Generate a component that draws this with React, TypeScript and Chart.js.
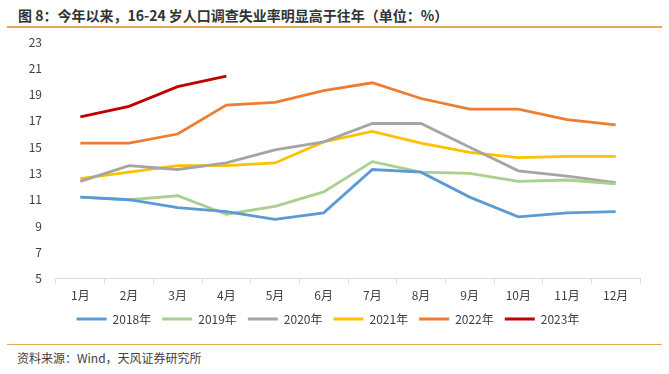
import React, { useEffect, useRef } from "react";
import { Chart, registerables } from "chart.js";

Chart.register(...registerables);

const months = ["1月", "2月", "3月", "4月", "5月", "6月", "7月", "8月", "9月", "10月", "11月", "12月"];
const y2018 = [11.2, 11.0, 10.4, 10.1, 9.5, 10.0, 13.3, 13.1, 11.2, 9.7, 10.0, 10.1];
const y2019 = [11.2, 11.0, 11.3, 9.9, 10.5, 11.6, 13.9, 13.1, 13.0, 12.4, 12.5, 12.2];
const y2020 = [12.4, 13.6, 13.3, 13.8, 14.8, 15.4, 16.8, 16.8, 15.0, 13.2, 12.8, 12.3];
const y2021 = [12.6, 13.1, 13.6, 13.6, 13.8, 15.4, 16.2, 15.3, 14.6, 14.2, 14.3, 14.3];
const y2022 = [15.3, 15.3, 16.0, 18.2, 18.4, 19.3, 19.9, 18.7, 17.9, 17.9, 17.1, 16.7];
const y2023 = [17.3, 18.1, 19.6, 20.4];
const seriesNames = ["2018年", "2019年", "2020年", "2021年", "2022年", "2023年"];
const seriesColors = ["#5B9BD5", "#A9D18E", "#A5A5A5", "#FFC000", "#ED7D31", "#C00000"];

const FONT = "'Noto Sans CJK SC', 'Noto Sans', sans-serif";

// trims the legend's vertical footprint while keeping its horizontal spacing
const legendTrim = {
  id: "legendTrim",
  beforeLayout(chart: any) {
    const lg = chart.legend;
    if (!lg || lg._trimmed) return;
    lg._trimmed = true;
    const origFit = lg.fit.bind(lg);
    lg.fit = function () {
      origFit();
      this.height -= 5;
    };
    const origDraw = lg.draw.bind(lg);
    lg.draw = function () {
      const ctx = this.ctx;
      ctx.save();
      ctx.translate(0, -6);
      origDraw();
      ctx.restore();
    };
  },
};

export default function App() {
  const ref = useRef<HTMLCanvasElement | null>(null);

  useEffect(() => {
    if (!ref.current) return;
    const data = [y2018, y2019, y2020, y2021, y2022, y2023];
    const chart = new Chart(ref.current, {
      type: "line",
      data: {
        labels: months,
        datasets: data.map((d, i) => ({
          label: seriesNames[i],
          data: d,
          borderColor: seriesColors[i],
          backgroundColor: seriesColors[i],
          borderWidth: 2.8,
          pointRadius: 0,
          tension: 0,
          fill: false,
        })),
      },
      plugins: [legendTrim],
      options: {
        animation: false,
        responsive: false,
        maintainAspectRatio: false,
        layout: { padding: { left: 16, right: 29, top: 12, bottom: 4 } },
        plugins: {
          tooltip: { enabled: false },
          legend: {
            position: "bottom",
            labels: {
              boxWidth: 30,
              boxHeight: 3,
              padding: 11,
              color: "#404040",
              font: { family: FONT, size: 12 },
              generateLabels: (c: any) =>
                Chart.defaults.plugins.legend.labels.generateLabels(c).map((l: any) => ({
                  ...l,
                  lineWidth: 0,
                  strokeStyle: l.fillStyle,
                })),
            },
          },
        },
        scales: {
          x: {
            offset: true,
            grid: {
              offset: true,
              drawOnChartArea: false,
              drawTicks: true,
              tickLength: 5,
              color: "#D9D9D9",
            },
            border: { display: true, color: "#D9D9D9", width: 1 },
            ticks: {
              color: "#404040",
              padding: 5,
              maxRotation: 0,
              autoSkip: false,
              font: { family: FONT, size: 12 },
            },
          },
          y: {
            min: 5,
            max: 23,
            grid: { display: false, drawTicks: false },
            border: { display: false },
            afterFit: (s: any) => {
              s.width = 40;
              s.paddingTop = 0;
              s.paddingBottom = 0;
            },
            ticks: {
              stepSize: 2,
              padding: 14,
              color: "#404040",
              font: { family: FONT, size: 12 },
            },
          },
        },
      },
    });
    return () => chart.destroy();
  }, []);

  return (
    <div
      style={{
        position: "fixed",
        left: 0,
        top: 0,
        width: 669,
        height: 374,
        background: "#fff",
        fontFamily: FONT,
      }}
    >
      <div
        style={{
          position: "absolute",
          left: 18,
          top: 5,
          fontSize: 14,
          fontWeight: 700,
          color: "#333333",
          lineHeight: "20px",
          whiteSpace: "nowrap",
        }}
      >
        图 8：今年以来，16-24 岁人口调查失业率明显高于往年（单位：%）
      </div>
      <div
        style={{
          position: "absolute",
          left: 7,
          top: 26,
          width: 655,
          height: 2,
          background: "#E3A857",
        }}
      />
      <canvas
        ref={ref}
        width={669}
        height={310}
        style={{ position: "absolute", left: 0, top: 30, width: 669, height: 310 }}
      />
      <div
        style={{
          position: "absolute",
          left: 7,
          top: 344,
          width: 655,
          height: 1,
          background: "#E3A857",
        }}
      />
      <div
        style={{
          position: "absolute",
          left: 17,
          top: 350,
          fontSize: 12,
          color: "#404040",
          lineHeight: "16px",
          whiteSpace: "nowrap",
        }}
      >
        资料来源：Wind，天风证券研究所
      </div>
    </div>
  );
}
